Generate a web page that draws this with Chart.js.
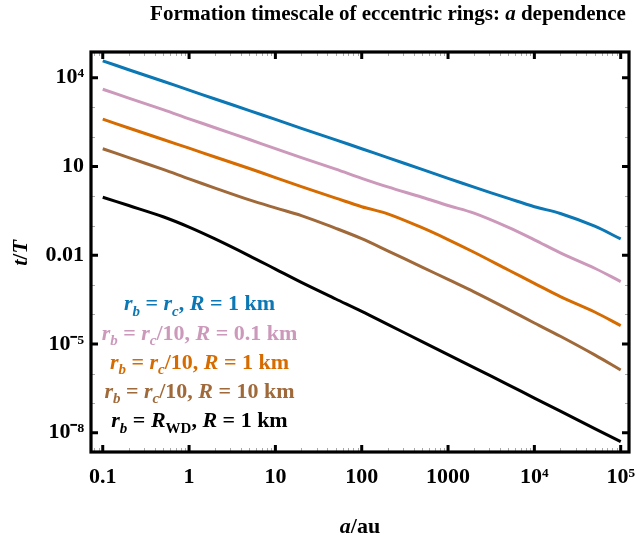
<!DOCTYPE html>
<html><head><meta charset="utf-8">
<script src="https://cdn.jsdelivr.net/npm/chart.js@4.4.1/dist/chart.umd.min.js"></script>
<style>html,body{margin:0;padding:0;background:#fff}#wrap{width:637px;height:543px;position:relative}</style>
</head><body><div id="wrap"><canvas id="c"></canvas></div>
<script>
// semi-major axis a (au)
const aValues = [0.1,0.2,0.5,1,2,5,10,20,50,100,200,500,1000,2000,5000,1e4,2e4,5e4,1e5];
// log10(t/T)
const logT_rc_R1    = [4.57,4.27,3.88,3.58,3.28,2.89,2.59,2.29,1.90,1.60,1.30,0.90,0.60,0.30,-0.08,-0.36,-0.59,-1.02,-1.45];
const logT_rc10_R01 = [3.61,3.31,2.92,2.61,2.31,1.91,1.605,1.30,0.91,0.60,0.31,-0.04,-0.32,-0.58,-1.06,-1.48,-1.92,-2.44,-2.89];
const logT_rc10_R1  = [2.60,2.30,1.91,1.62,1.32,0.93,0.625,0.32,-0.07,-0.36,-0.60,-1.07,-1.47,-1.90,-2.50,-2.95,-3.40,-3.92,-4.38];
const logT_rc10_R10 = [1.60,1.30,0.90,0.58,0.27,-0.13,-0.40,-0.66,-1.09,-1.44,-1.85,-2.40,-2.82,-3.24,-3.83,-4.29,-4.74,-5.37,-5.88];
const logT_RWD_R1   = [-0.04,-0.32,-0.70,-1.05,-1.45,-2.02,-2.47,-2.92,-3.48,-3.90,-4.34,-4.92,-5.36,-5.80,-6.38,-6.83,-7.27,-7.86,-8.30];

const seriesNames = ['rb = rc, R = 1 km','rb = rc/10, R = 0.1 km','rb = rc/10, R = 1 km','rb = rc/10, R = 10 km','rb = RWD, R = 1 km'];
const seriesColors = ['#0b77b4','#cc99bb','#d66b00','#a0693a','#000000'];

const xTickValues = [0.1,1,10,100,1000,1e4,1e5];
const xTickLabels = ['0.1','1','10','100','1000','10\u2074','10\u2075'];
const yTickValues = [1e-8,1e-5,1e-2,10,1e4];
const yTickLabels = ['10\u207B\u2078','10\u207B\u2075','0.01','10','10\u2074'];

const titleParts = [['Formation timescale of eccentric rings: ','n'],['a','i'],[' dependence','n']];
const xTitleParts = [['a','i'],['/au','n']];
const yTitleParts = [['t','i'],['/','n'],['T','i']];

const legendParts = [
  [['r','i'],['b','si'],[' = ','n'],['r','i'],['c','si'],[', ','n'],['R','i'],[' = 1 km','n']],
  [['r','i'],['b','si'],[' = ','n'],['r','i'],['c','si'],['/10, ','n'],['R','i'],[' = 0.1 km','n']],
  [['r','i'],['b','si'],[' = ','n'],['r','i'],['c','si'],['/10, ','n'],['R','i'],[' = 1 km','n']],
  [['r','i'],['b','si'],[' = ','n'],['r','i'],['c','si'],['/10, ','n'],['R','i'],[' = 10 km','n']],
  [['r','i'],['b','si'],[' = ','n'],['R','i'],['WD','sn'],[', ','n'],['R','i'],[' = 1 km','n']]
];

const allLogs = [logT_rc_R1, logT_rc10_R01, logT_rc10_R1, logT_rc10_R10, logT_RWD_R1];
const FAM = '"Liberation Serif","Times New Roman",serif';

function fontFor(style, size){
  const s = style.startsWith('s') ? Math.round(size*0.68) : size;
  const it = style.endsWith('i') ? 'italic ' : '';
  return it + 'bold ' + s + 'px ' + FAM;
}
function drawRich(ctx, parts, cx, baseY, size, color){
  let total = 0;
  const w = parts.map(p => { ctx.font = fontFor(p[1], size); const m = ctx.measureText(p[0]).width; total += m; return m; });
  let x = cx - total/2;
  ctx.fillStyle = color; ctx.textAlign = 'left'; ctx.textBaseline = 'alphabetic';
  parts.forEach((p,i) => {
    ctx.font = fontFor(p[1], size);
    const dy = p[1].startsWith('s') ? size*0.25 : 0;
    ctx.fillText(p[0], x, baseY + dy);
    x += w[i];
  });
}

const decorPlugin = {
  id: 'decor',
  afterDatasetsDraw(chart){
    const ctx = chart.ctx, a = chart.chartArea, xs = chart.scales.x, ys = chart.scales.y;
    ctx.save();
    ctx.strokeStyle = '#aaaaaa'; ctx.lineWidth = 1;
    for (let e = -2; e <= 5; e++) for (let k = 2; k <= 9; k++) {
      const v = k * Math.pow(10, e);
      if (v < xs.min || v > xs.max) continue;
      const px = Math.round(xs.getPixelForValue(v)) + 0.5;
      ctx.beginPath(); ctx.moveTo(px, a.bottom); ctx.lineTo(px, a.bottom - 4);
      ctx.moveTo(px, a.top); ctx.lineTo(px, a.top + 4); ctx.stroke();
    }
    for (let e = -8; e <= 4; e++) {
      const v = Math.pow(10, e);
      if (yTickValues.some(t => Math.abs(Math.log10(t) - e) < 1e-6)) continue;
      const py = Math.round(ys.getPixelForValue(v)) + 0.5;
      ctx.beginPath(); ctx.moveTo(a.left, py); ctx.lineTo(a.left + 4, py);
      ctx.moveTo(a.right, py); ctx.lineTo(a.right - 4, py); ctx.stroke();
    }
    ctx.strokeStyle = '#000'; ctx.lineWidth = 3;
    xTickValues.forEach(v => {
      const px = xs.getPixelForValue(v);
      ctx.beginPath(); ctx.moveTo(px, a.bottom); ctx.lineTo(px, a.bottom - 7);
      ctx.moveTo(px, a.top); ctx.lineTo(px, a.top + 7); ctx.stroke();
    });
    yTickValues.forEach(v => {
      const py = ys.getPixelForValue(v);
      ctx.beginPath(); ctx.moveTo(a.left, py); ctx.lineTo(a.left + 7, py);
      ctx.moveTo(a.right, py); ctx.lineTo(a.right - 7, py); ctx.stroke();
    });
    ctx.lineWidth = 3.2;
    ctx.strokeRect(a.left, a.top, a.right - a.left, a.bottom - a.top);
    ctx.restore();
  },
  afterDraw(chart){
    const ctx = chart.ctx;
    ctx.save();
    drawRich(ctx, titleParts, 388, 20, 21, '#000');
    drawRich(ctx, xTitleParts, 360, 533, 22, '#000');
    ctx.translate(20, 253); ctx.rotate(-Math.PI/2);
    drawRich(ctx, yTitleParts, 0, 7, 22, '#000');
    ctx.setTransform(1,0,0,1,0,0);
    const bases = [310, 339.5, 368.5, 397.5, 427];
    legendParts.forEach((p,i) => drawRich(ctx, p, 199.5, bases[i], 22, seriesColors[i]));
    ctx.restore();
  }
};

const datasets = allLogs.map((arr, i) => ({
  label: seriesNames[i],
  data: aValues.map((x, j) => ({x: x, y: Math.pow(10, arr[j])})),
  borderColor: seriesColors[i],
  backgroundColor: seriesColors[i],
  borderWidth: 3,
  pointRadius: 0,
  fill: false,
  tension: 0.35
}));

const tickFont = {family: FAM, size: 22, weight: 'bold'};
new Chart(document.getElementById('c'), {
  type: 'line',
  data: {datasets},
  plugins: [decorPlugin],
  options: {
    responsive: true, maintainAspectRatio: false, animation: false,
    devicePixelRatio: 1,
    layout: {padding: {top: 52, right: 8, left: 0, bottom: 0}},
    plugins: {legend: {display: false}, title: {display: false}, tooltip: {enabled: false}},
    scales: {
      x: {
        type: 'logarithmic', position: 'bottom', min: 0.0731, max: 124800,
        grid: {display: false, drawTicks: false}, border: {display: false},
        ticks: {font: tickFont, color: '#000', padding: 12, maxRotation: 0, autoSkip: false,
          callback: (v) => { const i = xTickValues.findIndex(t => Math.abs(Math.log10(t) - Math.log10(v)) < 1e-6); return i >= 0 ? xTickLabels[i] : ''; }},
        afterBuildTicks: (s) => { s.ticks = xTickValues.map(v => ({value: v})); },
        afterFit: (s) => { s.height = 91; s.paddingLeft = 0; s.paddingRight = 0; }
      },
      y: {
        type: 'logarithmic', position: 'left', min: 2.23e-9, max: 73960,
        grid: {display: false, drawTicks: false}, border: {display: false},
        ticks: {font: tickFont, color: '#000', padding: 7, autoSkip: false,
          callback: (v) => { const i = yTickValues.findIndex(t => Math.abs(Math.log10(t) - Math.log10(v)) < 1e-6); return i >= 0 ? yTickLabels[i] : ''; }},
        afterBuildTicks: (s) => { s.ticks = yTickValues.map(v => ({value: v})); },
        afterFit: (s) => { s.width = 91; s.paddingTop = 0; s.paddingBottom = 0; }
      }
    }
  }
});
</script></body></html>
